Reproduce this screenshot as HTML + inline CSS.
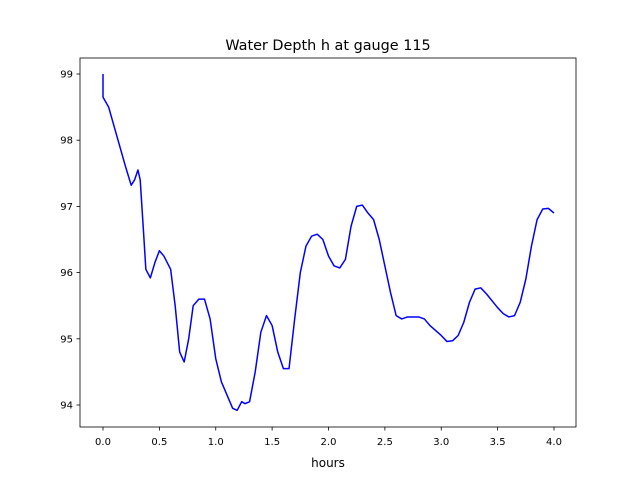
<!DOCTYPE html>
<html><head><meta charset="utf-8"><style>
body{margin:0;background:#fff;}
svg{display:block;font-family:"DejaVu Sans","Liberation Sans",sans-serif;}
</style></head><body>
<svg id="chart" width="640" height="480" viewBox="0 0 640 480">
<rect width="640" height="480" fill="#fff"/>
<text x="328" y="50" font-size="14.4" text-anchor="middle">Water Depth h at gauge 115</text>
<g id="xt"></g>
<g id="yt"></g>
<polyline id="line" fill="none" stroke="#0000ff" stroke-width="1.5" stroke-linejoin="round"/>
<rect x="80" y="58" width="496" height="369" fill="none" stroke="#000" stroke-width="0.8"/>
<text x="328" y="467" font-size="12" text-anchor="middle">hours</text>
</svg>
<script>
const times=[0,0,0.05,0.1,0.15,0.2,0.25,0.28,0.31,0.33,0.36,0.38,0.42,0.46,0.5,0.54,0.6,0.64,0.68,0.72,0.76,0.8,0.85,0.9,0.95,1.0,1.05,1.1,1.15,1.19,1.23,1.26,1.3,1.35,1.4,1.45,1.5,1.55,1.6,1.65,1.7,1.75,1.8,1.85,1.9,1.95,2.0,2.05,2.1,2.15,2.2,2.25,2.3,2.35,2.4,2.45,2.5,2.55,2.6,2.65,2.7,2.8,2.85,2.9,3.0,3.05,3.1,3.15,3.2,3.25,3.3,3.35,3.4,3.5,3.55,3.6,3.65,3.7,3.75,3.8,3.85,3.9,3.95,4.0];
const depths=[99.0,98.65,98.5,98.2,97.9,97.6,97.32,97.4,97.55,97.4,96.6,96.05,95.92,96.15,96.33,96.25,96.05,95.5,94.8,94.65,95.0,95.5,95.6,95.6,95.3,94.7,94.35,94.15,93.95,93.92,94.05,94.02,94.05,94.5,95.1,95.35,95.2,94.8,94.55,94.55,95.3,96.0,96.4,96.55,96.58,96.5,96.25,96.1,96.07,96.2,96.7,97.0,97.02,96.9,96.8,96.5,96.1,95.7,95.35,95.3,95.33,95.33,95.3,95.2,95.05,94.96,94.97,95.05,95.25,95.55,95.75,95.77,95.68,95.47,95.38,95.33,95.35,95.55,95.9,96.4,96.8,96.96,96.97,96.9];
const xTicks=[0.0,0.5,1.0,1.5,2.0,2.5,3.0,3.5,4.0];
const yTicks=[94,95,96,97,98,99];
const X=v=>103+v*(554-103)/4;
const Y=v=>405-(v-94)*(405-74)/5;
const NS="http://www.w3.org/2000/svg";
document.getElementById('line').setAttribute('points',times.map((t,i)=>X(t)+','+Y(depths[i])).join(' '));
const xt=document.getElementById('xt'),yt=document.getElementById('yt');
xTicks.forEach(v=>{
 const l=document.createElementNS(NS,'line');
 
 
 l.setAttribute('x1',X(v));l.setAttribute('x2',X(v));l.setAttribute('y1',427);l.setAttribute('y2',430.5);l.setAttribute('stroke','#000');l.setAttribute('stroke-width','0.8');
 xt.appendChild(l);
 const t=document.createElementNS(NS,'text');
 
 
 t.setAttribute('x',X(v));t.setAttribute('y',445);t.setAttribute('font-size','10');t.setAttribute('text-anchor','middle');
 t.textContent=v.toFixed(1);xt.appendChild(t);
});
yTicks.forEach(v=>{
 const l=document.createElementNS(NS,'line');
 
 
 l.setAttribute('x1',76.5);l.setAttribute('x2',80);l.setAttribute('y1',Y(v));l.setAttribute('y2',Y(v));l.setAttribute('stroke','#000');l.setAttribute('stroke-width','0.8');
 yt.appendChild(l);
 const t=document.createElementNS(NS,'text');
 
 
 t.setAttribute('x',73);t.setAttribute('y',Y(v)+3.5);t.setAttribute('font-size','10');t.setAttribute('text-anchor','end');
 t.textContent=v;yt.appendChild(t);
});
</script>
</body></html>
